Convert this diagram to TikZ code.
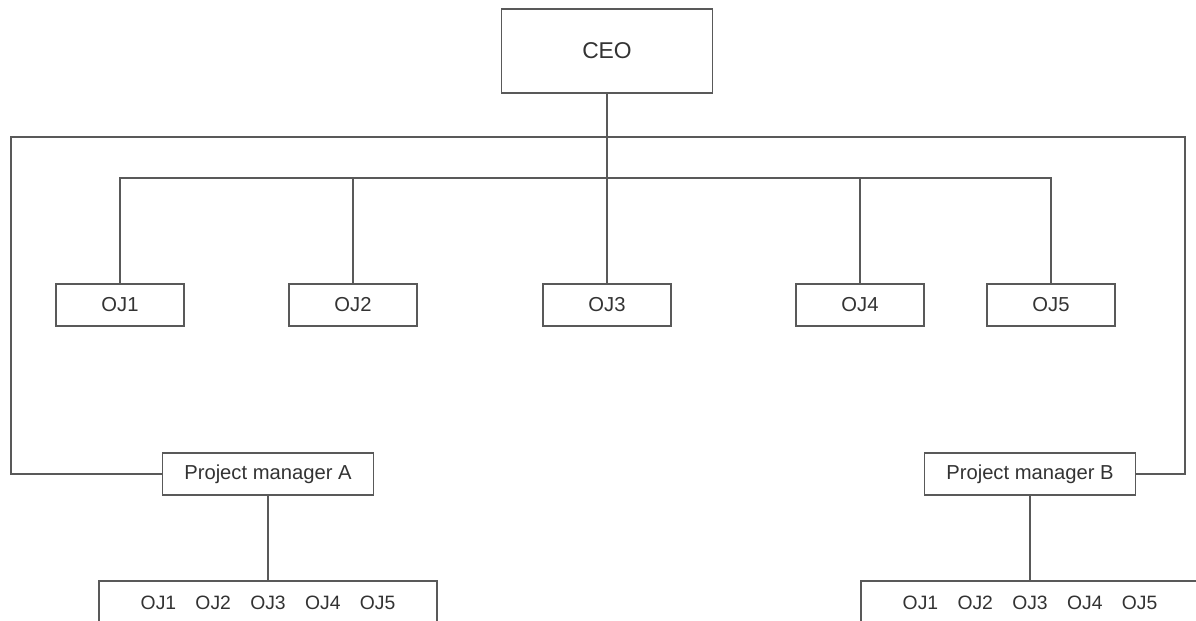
\documentclass[tikz,border=0pt]{standalone}
\usepackage{fontspec}
\setmainfont{Liberation Sans}
\usepackage{tikz}
\usetikzlibrary{positioning,calc}

\begin{document}
\begin{tikzpicture}[
    unit/.style={draw=black!65, line width=1pt, minimum width=2.56cm, minimum height=0.84cm, align=center, font=\fontsize{11.5}{13}\selectfont, text=black!80, inner sep=0pt},
    boss/.style={unit, minimum width=4.22cm, minimum height=1.68cm, font=\fontsize{13}{15}\selectfont},
    pm/.style={unit, minimum width=4.22cm},
    team/.style={unit, minimum width=6.76cm, minimum height=0.88cm, font=\fontsize{11}{13}\selectfont},
    conn/.style={draw=black!65, line width=1pt}
]
\clip (0,0) rectangle (23.92,-12.42);
\fill[white] (0,0) rectangle (23.92,-12.42);

\node[boss] (CEO) at (12.14,-1.02) {CEO};
\node[unit] (OJ1) at (2.4,-6.1) {OJ1};
\node[unit] (OJ2) at (7.06,-6.1) {OJ2};
\node[unit] (OJ3) at (12.14,-6.1) {OJ3};
\node[unit] (OJ4) at (17.2,-6.1) {OJ4};
\node[unit] (OJ5) at (21.02,-6.1) {OJ5};
\node[pm] (PMA) at (5.36,-9.48) {Project manager A};
\node[pm] (PMB) at (20.6,-9.48) {Project manager B};
\node[team] (TA) at (5.36,-12.06) {OJ1\quad OJ2\quad OJ3\quad OJ4\quad OJ5};
\node[team] (TB) at (20.6,-12.06) {OJ1\quad OJ2\quad OJ3\quad OJ4\quad OJ5};

\coordinate (bus) at (12.14,-3.56);
\coordinate (topL) at (0.22,-2.74);
\coordinate (topR) at (23.7,-2.74);

\draw[conn] (CEO) -- (OJ3);
\draw[conn] (OJ1.north) |- (bus) -| (OJ5.north);
\draw[conn] (OJ2.north) -- (OJ2.north |- bus);
\draw[conn] (OJ4.north) -- (OJ4.north |- bus);
\draw[conn] (PMA.west) -| (topL) -- (topR) |- (PMB.east);
\draw[conn] (PMA) -- (TA);
\draw[conn] (PMB) -- (TB);
\end{tikzpicture}
\end{document}
